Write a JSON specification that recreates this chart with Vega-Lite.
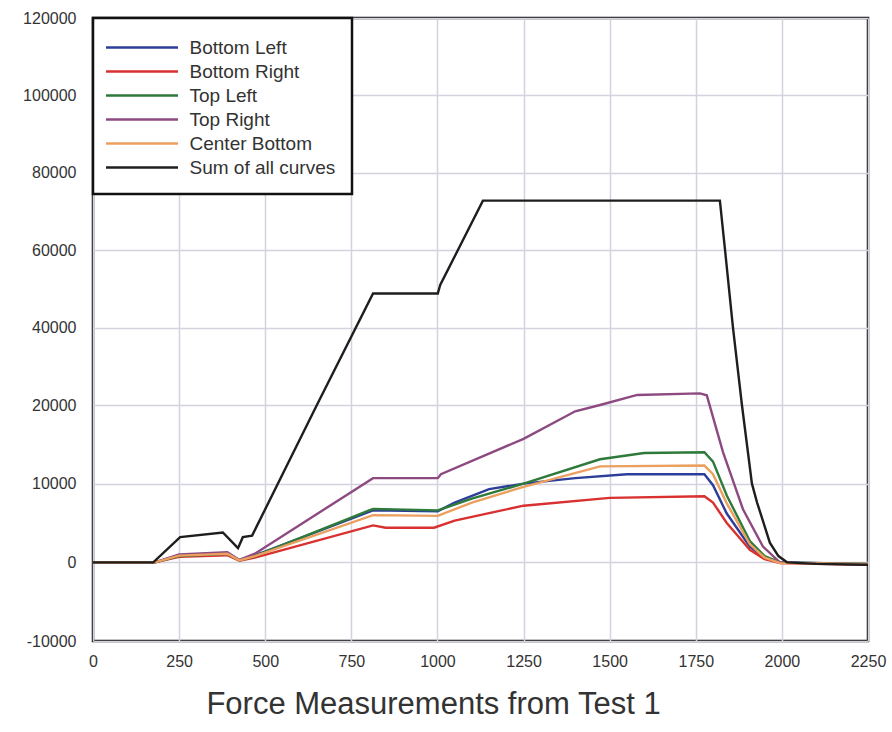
{
  "$schema": "https://vega.github.io/schema/vega-lite/v6.json",
  "width": 775,
  "height": 623,
  "autosize": {"type": "none"},
  "padding": {"left": 93, "top": 18, "right": 24, "bottom": 91},
  "background": "white",
  "config": {"view": {"stroke": "#111111", "strokeWidth": 2.5}, "font": "Liberation Sans"},
  "data": {"values": [
    {"s":"Bottom Left","t":0,"v":0},{"s":"Bottom Left","t":180,"v":0},{"s":"Bottom Left","t":250,"v":900},{"s":"Bottom Left","t":390,"v":1200},{"s":"Bottom Left","t":425,"v":300},{"s":"Bottom Left","t":470,"v":900},{"s":"Bottom Left","t":813,"v":6600},{"s":"Bottom Left","t":1001,"v":6500},{"s":"Bottom Left","t":1050,"v":7600},{"s":"Bottom Left","t":1150,"v":9300},{"s":"Bottom Left","t":1250,"v":10000},{"s":"Bottom Left","t":1400,"v":10700},{"s":"Bottom Left","t":1550,"v":11200},{"s":"Bottom Left","t":1775,"v":11200},{"s":"Bottom Left","t":1800,"v":9800},{"s":"Bottom Left","t":1840,"v":6200},{"s":"Bottom Left","t":1907,"v":2000},{"s":"Bottom Left","t":1950,"v":600},{"s":"Bottom Left","t":1995,"v":0},{"s":"Bottom Left","t":2250,"v":-200},
    {"s":"Bottom Right","t":0,"v":0},{"s":"Bottom Right","t":180,"v":0},{"s":"Bottom Right","t":250,"v":700},{"s":"Bottom Right","t":390,"v":900},{"s":"Bottom Right","t":425,"v":200},{"s":"Bottom Right","t":470,"v":600},{"s":"Bottom Right","t":813,"v":4700},{"s":"Bottom Right","t":850,"v":4400},{"s":"Bottom Right","t":990,"v":4400},{"s":"Bottom Right","t":1050,"v":5300},{"s":"Bottom Right","t":1250,"v":7200},{"s":"Bottom Right","t":1500,"v":8200},{"s":"Bottom Right","t":1775,"v":8400},{"s":"Bottom Right","t":1800,"v":7600},{"s":"Bottom Right","t":1840,"v":5000},{"s":"Bottom Right","t":1907,"v":1600},{"s":"Bottom Right","t":1950,"v":400},{"s":"Bottom Right","t":1995,"v":-100},{"s":"Bottom Right","t":2250,"v":-300},
    {"s":"Top Left","t":0,"v":0},{"s":"Top Left","t":180,"v":0},{"s":"Top Left","t":250,"v":800},{"s":"Top Left","t":390,"v":1100},{"s":"Top Left","t":425,"v":250},{"s":"Top Left","t":470,"v":800},{"s":"Top Left","t":813,"v":6800},{"s":"Top Left","t":1001,"v":6600},{"s":"Top Left","t":1100,"v":8100},{"s":"Top Left","t":1250,"v":10000},{"s":"Top Left","t":1472,"v":13100},{"s":"Top Left","t":1600,"v":13900},{"s":"Top Left","t":1775,"v":14000},{"s":"Top Left","t":1800,"v":12800},{"s":"Top Left","t":1840,"v":8500},{"s":"Top Left","t":1907,"v":2700},{"s":"Top Left","t":1950,"v":800},{"s":"Top Left","t":1995,"v":0},{"s":"Top Left","t":2250,"v":-200},
    {"s":"Top Right","t":0,"v":0},{"s":"Top Right","t":180,"v":0},{"s":"Top Right","t":250,"v":1000},{"s":"Top Right","t":390,"v":1300},{"s":"Top Right","t":425,"v":300},{"s":"Top Right","t":470,"v":1100},{"s":"Top Right","t":813,"v":10700},{"s":"Top Right","t":1001,"v":10700},{"s":"Top Right","t":1010,"v":11200},{"s":"Top Right","t":1250,"v":15700},{"s":"Top Right","t":1400,"v":19200},{"s":"Top Right","t":1472,"v":20000},{"s":"Top Right","t":1580,"v":22600},{"s":"Top Right","t":1762,"v":23000},{"s":"Top Right","t":1782,"v":22500},{"s":"Top Right","t":1829,"v":14000},{"s":"Top Right","t":1887,"v":6750},{"s":"Top Right","t":1945,"v":2000},{"s":"Top Right","t":1994,"v":0},{"s":"Top Right","t":2250,"v":-300},
    {"s":"Center Bottom","t":0,"v":0},{"s":"Center Bottom","t":180,"v":0},{"s":"Center Bottom","t":250,"v":850},{"s":"Center Bottom","t":390,"v":1100},{"s":"Center Bottom","t":425,"v":250},{"s":"Center Bottom","t":470,"v":800},{"s":"Center Bottom","t":813,"v":6000},{"s":"Center Bottom","t":1001,"v":5900},{"s":"Center Bottom","t":1100,"v":7600},{"s":"Center Bottom","t":1250,"v":9600},{"s":"Center Bottom","t":1472,"v":12200},{"s":"Center Bottom","t":1775,"v":12300},{"s":"Center Bottom","t":1800,"v":11200},{"s":"Center Bottom","t":1840,"v":7500},{"s":"Center Bottom","t":1907,"v":2300},{"s":"Center Bottom","t":1950,"v":600},{"s":"Center Bottom","t":1995,"v":-100},{"s":"Center Bottom","t":2250,"v":-200},
    {"s":"Sum of all curves","t":0,"v":0},{"s":"Sum of all curves","t":175,"v":0},{"s":"Sum of all curves","t":253,"v":3200},{"s":"Sum of all curves","t":377,"v":3800},{"s":"Sum of all curves","t":421,"v":1800},{"s":"Sum of all curves","t":435,"v":3200},{"s":"Sum of all curves","t":462,"v":3400},{"s":"Sum of all curves","t":650,"v":20000},{"s":"Sum of all curves","t":813,"v":48800},{"s":"Sum of all curves","t":1001,"v":48800},{"s":"Sum of all curves","t":1008,"v":51000},{"s":"Sum of all curves","t":1132,"v":72800},{"s":"Sum of all curves","t":1820,"v":72800},{"s":"Sum of all curves","t":1835,"v":60000},{"s":"Sum of all curves","t":1858,"v":40000},{"s":"Sum of all curves","t":1884,"v":20000},{"s":"Sum of all curves","t":1913,"v":10000},{"s":"Sum of all curves","t":1928,"v":7600},{"s":"Sum of all curves","t":1965,"v":2500},{"s":"Sum of all curves","t":1990,"v":800},{"s":"Sum of all curves","t":2015,"v":0},{"s":"Sum of all curves","t":2100,"v":-200},{"s":"Sum of all curves","t":2250,"v":-300}
  ]},
  "mark": {"type": "line", "strokeWidth": 2.4, "clip": true},
  "encoding": {
    "x": {
      "field": "t", "type": "quantitative",
      "scale": {"domain": [0, 2250], "nice": false, "zero": false},
      "axis": {
        "values": [0,250,500,750,1000,1250,1500,1750,2000,2250],
        "labelExpr": "'' + datum.value",
        "title": "Force Measurements from Test 1",
        "grid": true, "gridColor": "#d2d3de", "gridWidth": 1.5,
        "domain": false, "ticks": false,
        "labelFontSize": 16, "labelColor": "#333333", "labelPadding": 12, "labelFlush": false,
        "titleFontSize": 31, "titleFontWeight": "normal", "titleColor": "#333333",
        "titleX": 340, "titleY": 72, "titleBaseline": "alphabetic"
      }
    },
    "y": {
      "field": "v", "type": "quantitative",
      "scale": {"domain": [-10000, 20000, 120000], "range": [623, 387, 0], "nice": false, "zero": false},
      "axis": {
        "values": [-10000,0,10000,20000,40000,60000,80000,100000,120000],
        "labelExpr": "'' + datum.value",
        "title": null,
        "grid": true, "gridColor": "#d2d3de", "gridWidth": 1.5,
        "domain": false, "ticks": false,
        "labelFontSize": 16, "labelColor": "#333333", "labelPadding": 17
      }
    },
    "color": {
      "field": "s", "type": "nominal",
      "scale": {
        "domain": ["Bottom Left","Bottom Right","Top Left","Top Right","Center Bottom","Sum of all curves"],
        "range": ["#2c3e99","#d93030","#2e7a3a","#8d4a80","#eba060","#1e1e1e"]
      },
      "legend": {
        "orient": "top-left", "offset": 0, "title": null,
        "symbolType": "M-3,0H3", "symbolSize": 576, "symbolStrokeWidth": 2.5, "symbolOffset": 19.5,
        "labelFontSize": 19, "labelColor": "#333333", "labelOffset": 34, "labelLimit": 300,
        "rowPadding": 0, "padding": 16,
        "fillColor": "white", "strokeColor": "#111111",
        "encode": {"legend": {"update": {"strokeWidth": {"value": 2.5}}}}
      }
    }
  }
}
